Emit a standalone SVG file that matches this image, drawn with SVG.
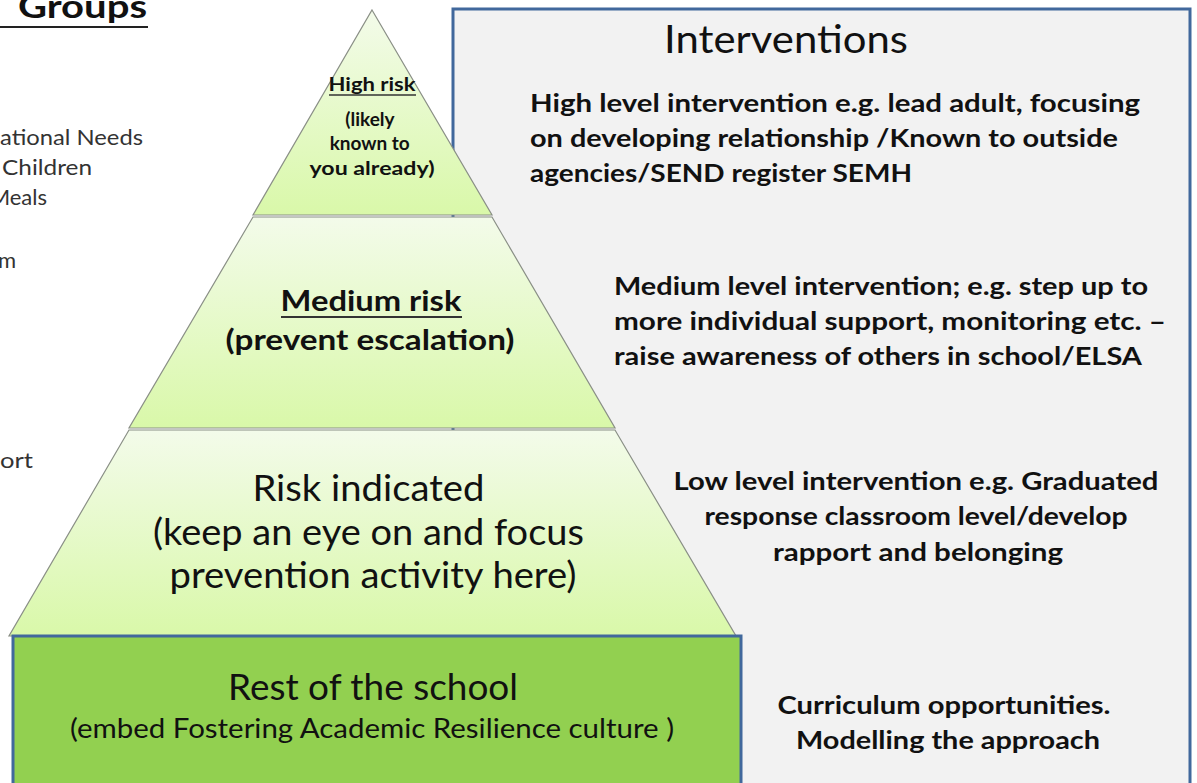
<svg xmlns="http://www.w3.org/2000/svg" width="1197" height="783" viewBox="0 0 1197 783">
<style>
.t{font-family:Lato,"Noto Sans","DejaVu Sans",sans-serif;fill:#111;}
.b{font-weight:700;}
.side{font-family:Lato,"Noto Sans",sans-serif;fill:#333;font-size:22px;}
.layer{fill:url(#lg);stroke:#8a8f86;stroke-width:1.2;}
</style>
<defs>
<linearGradient id="lg" x1="0" y1="0" x2="0" y2="1">
<stop offset="0" stop-color="#F3FBEA"/>
<stop offset="1" stop-color="#D9F8A9"/>
</linearGradient>
</defs>
<rect width="1197" height="783" fill="#ffffff"/>

<g id="groups-side">
<text class="t b" x="18" y="18" font-size="32" textLength="129" lengthAdjust="spacingAndGlyphs">Groups</text>
<line x1="0" y1="27" x2="148" y2="27" stroke="#222" stroke-width="2"/>
<text class="side" x="0" y="145" textLength="143" lengthAdjust="spacingAndGlyphs">ational Needs</text>
<text class="side" x="2" y="175" textLength="90" lengthAdjust="spacingAndGlyphs">Children</text>
<text class="side" x="47" y="205" text-anchor="end">Meals</text>
<text class="side" x="16" y="268" text-anchor="end">m</text>
<text class="side" x="0" y="468" textLength="33" lengthAdjust="spacingAndGlyphs">ort</text>
</g>

<g id="interventions">
<rect x="453" y="9" width="737" height="790" fill="#F2F2F2" stroke="#41689C" stroke-width="3"/>
<text class="t" x="786" y="53" font-size="38" text-anchor="middle" textLength="244" lengthAdjust="spacingAndGlyphs">Interventions</text>
<text class="t b" font-size="25">
<tspan x="530" y="112" textLength="610" lengthAdjust="spacingAndGlyphs">High level intervention e.g. lead adult, focusing</tspan>
<tspan x="530" y="147" textLength="588" lengthAdjust="spacingAndGlyphs">on developing relationship /Known to outside</tspan>
<tspan x="530" y="182" textLength="382" lengthAdjust="spacingAndGlyphs">agencies/SEND register SEMH</tspan>
</text>
</g>

<g id="int-medium">
<text class="t b" font-size="25">
<tspan x="614" y="295" textLength="534" lengthAdjust="spacingAndGlyphs">Medium level intervention; e.g. step up to</tspan>
<tspan x="614" y="330" textLength="552" lengthAdjust="spacingAndGlyphs">more individual support, monitoring etc. –</tspan>
<tspan x="614" y="365" textLength="528" lengthAdjust="spacingAndGlyphs">raise awareness of others in school/ELSA</tspan>
</text>
</g>

<g id="int-low">
<text class="t b" font-size="25" text-anchor="middle">
<tspan x="919" y="490" textLength="485" lengthAdjust="spacingAndGlyphs">Low level intervention e.g. Graduated</tspan>
<tspan x="919" y="525" textLength="423" lengthAdjust="spacingAndGlyphs">response classroom level/develop</tspan>
<tspan x="918" y="561" textLength="290" lengthAdjust="spacingAndGlyphs">rapport and belonging</tspan>
</text>
</g>

<g id="int-curriculum">
<text class="t b" font-size="25" text-anchor="middle">
<tspan x="947" y="714" textLength="333" lengthAdjust="spacingAndGlyphs">Curriculum opportunities.</tspan>
<tspan x="948" y="749" textLength="304" lengthAdjust="spacingAndGlyphs">Modelling the approach</tspan>
</text>
</g>

<g id="high-risk">
<polygon class="layer" points="372,10 492,215 253,215"/>
<text class="t b" x="372" y="91" font-size="19" text-anchor="middle" textLength="87" lengthAdjust="spacingAndGlyphs">High risk</text>
<line x1="329" y1="95" x2="416" y2="95" stroke="#333" stroke-width="1.5"/>
<text class="t b" font-size="19" text-anchor="middle">
<tspan x="372" y="126">(likely</tspan>
<tspan x="372" y="150">known to</tspan>
<tspan x="372" y="175" textLength="125" lengthAdjust="spacingAndGlyphs">you already)</tspan>
</text>
</g>

<g id="medium-risk">
<polygon class="layer" points="253,217 492,217 615,428 129,428"/>
<text class="t b" x="371" y="311" font-size="28" text-anchor="middle" textLength="181" lengthAdjust="spacingAndGlyphs">Medium risk</text>
<line x1="281" y1="317" x2="462" y2="317" stroke="#333" stroke-width="1.8"/>
<text class="t b" x="370" y="350" font-size="28" text-anchor="middle" textLength="289" lengthAdjust="spacingAndGlyphs">(prevent escalation)</text>
</g>

<g id="risk-indicated">
<polygon class="layer" points="129,430 615,430 736,636 9,636"/>
<text class="t" font-size="36" text-anchor="middle">
<tspan x="373" y="501" textLength="232" lengthAdjust="spacingAndGlyphs">Risk indicated</tspan>
<tspan x="373" y="545" textLength="431" lengthAdjust="spacingAndGlyphs">(keep an eye on and focus</tspan>
<tspan x="373" y="588" textLength="407" lengthAdjust="spacingAndGlyphs">prevention activity here)</tspan>
</text>
</g>

<g id="rest-of-school">
<rect x="13" y="636" width="728" height="160" fill="#92D050" stroke="#41689C" stroke-width="3"/>
<text class="t" x="373" y="700" font-size="36" text-anchor="middle" textLength="290" lengthAdjust="spacingAndGlyphs">Rest of the school</text>
<text class="t" x="372" y="738" font-size="27" text-anchor="middle" textLength="604" lengthAdjust="spacingAndGlyphs">(embed Fostering Academic Resilience culture )</text>
</g>

<g id="connectors"></g>
</svg>
